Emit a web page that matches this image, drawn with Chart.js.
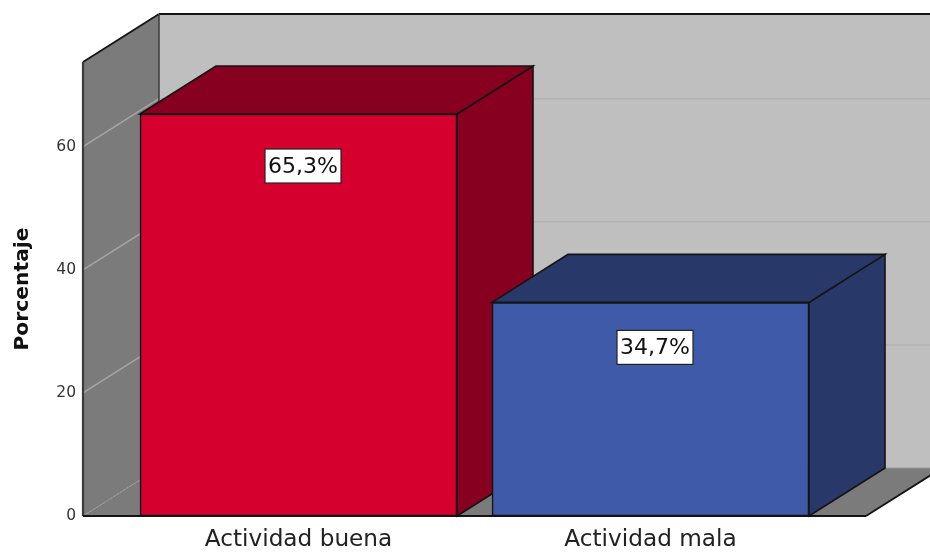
<!DOCTYPE html>
<html>
<head>
<meta charset="utf-8">
<script src="https://cdn.jsdelivr.net/npm/chart.js@4"></script>
<style>
  html, body { margin: 0; padding: 0; background: #fff; }
  #wrap { width: 930px; height: 552px; }
</style>
</head>
<body>
<div id="wrap"><canvas id="myChart" width="930" height="552"></canvas></div>
<script>
  // actual data part
  const categories = ['Actividad buena', 'Actividad mala'];
  const porcentaje = [65.3, 34.7];
  const yTicks = [0, 20, 40, 60];

  const frontColors = ['#d6002e', '#3e5aa8'];
  const darkColors = ['#87001f', '#283868'];

  // 3d look: how far the back wall sits from the front plane
  const depthX = 76;
  const depthY = 48;
  const sidePad = 39.5; // floor sticks out this far past the category band
  const lineCol = '#141414';

  function poly(ctx, pts, fill, stroke, lw) {
      ctx.beginPath();
      pts.forEach((p, i) => i ? ctx.lineTo(p[0], p[1]) : ctx.moveTo(p[0], p[1]));
      ctx.closePath();
      if (fill) { ctx.fillStyle = fill; ctx.fill(); }
      if (stroke) { ctx.strokeStyle = stroke; ctx.lineWidth = lw || 1.5; ctx.stroke(); }
  }

  function line(ctx, x1, y1, x2, y2, col, lw) {
      ctx.beginPath();
      ctx.moveTo(x1, y1);
      ctx.lineTo(x2, y2);
      ctx.strokeStyle = col;
      ctx.lineWidth = lw;
      ctx.stroke();
  }

  const walls = {
      id: 'walls',
      beforeDatasetsDraw(chart) {
          const ctx = chart.ctx;
          const a = chart.chartArea;
          const y = chart.scales.y;
          const l = a.left - sidePad;
          const r = a.right + sidePad;
          const t = a.top;
          const b = a.bottom;

          ctx.save();
          // back wall, runs off the right edge of the picture
          poly(ctx, [[l + depthX, t - depthY], [r + depthX, t - depthY], [r + depthX, b - depthY], [l + depthX, b - depthY]], '#bfbfbf');
          // left wall and floor
          poly(ctx, [[l, t], [l + depthX, t - depthY], [l + depthX, b - depthY], [l, b]], '#7b7b7b');
          poly(ctx, [[l, b], [l + depthX, b - depthY], [r + depthX, b - depthY], [r, b]], '#7b7b7b');

          // grid on both walls
          yTicks.forEach(v => {
              const py = y.getPixelForValue(v);
              if (v === 0) {
                  ctx.setLineDash([2, 2]);
                  line(ctx, l, py, l + depthX, py - depthY, '#9a9a9a', 1.2);
                  ctx.setLineDash([]);
                  return;
              }
              line(ctx, l, py, l + depthX, py - depthY, '#a6a6a6', 1.5);
              line(ctx, l + depthX, py - depthY, r + depthX, py - depthY, '#b3b3b3', 1.5);
          });

          // wall outlines
          line(ctx, l, t, l + depthX, t - depthY, lineCol, 1.8);
          line(ctx, l + depthX, t - depthY, r + depthX, t - depthY, lineCol, 1.8);
          line(ctx, l + depthX, t - depthY, l + depthX, b - depthY, '#3a3a3a', 1.5);
          line(ctx, l, t, l, b, '#3a3a3a', 2.2);
          line(ctx, l, b, r, b, lineCol, 1.8);
          line(ctx, r, b, r + depthX, b - depthY, lineCol, 1.8);
          line(ctx, l + depthX, b - depthY, r + depthX, b - depthY, '#9a9a9a', 1);

          // bar sides and tops, the fronts come from chart.js itself
          chart.getDatasetMeta(0).data.forEach((bar, i) => {
              const p = bar.getProps(['x', 'y', 'base', 'width'], true);
              const x1 = p.x - p.width / 2;
              const x2 = p.x + p.width / 2;
              poly(ctx, [[x2, p.y], [x2 + depthX, p.y - depthY], [x2 + depthX, p.base - depthY], [x2, p.base]], darkColors[i], lineCol, 1.6);
              poly(ctx, [[x1, p.y], [x1 + depthX, p.y - depthY], [x2 + depthX, p.y - depthY], [x2, p.y]], darkColors[i], lineCol, 1.6);
          });
          ctx.restore();
      }
  };

  // white boxes with the percentage on each bar
  const boxLabels = {
      id: 'boxLabels',
      afterDatasetsDraw(chart) {
          const ctx = chart.ctx;
          const offsets = [52, 45];
          ctx.save();
          ctx.font = '22px "DejaVu Sans"';
          ctx.textAlign = 'center';
          ctx.textBaseline = 'middle';
          chart.getDatasetMeta(0).data.forEach((bar, i) => {
              const p = bar.getProps(['x', 'y'], true);
              const cx = p.x + 4.5;
              const cy = p.y + offsets[i];
              const txt = porcentaje[i].toFixed(1).replace('.', ',') + '%';
              ctx.fillStyle = '#fff';
              ctx.strokeStyle = '#222';
              ctx.lineWidth = 1.2;
              ctx.fillRect(cx - 38, cy - 17, 76, 34);
              ctx.strokeRect(cx - 38, cy - 17, 76, 34);
              ctx.fillStyle = '#111';
              ctx.fillText(txt, cx, cy + 1);
          });
          ctx.restore();
      }
  };

  const config = {
      type: 'bar',
      data: {
          labels: categories,
          datasets: [{
              data: porcentaje,
              backgroundColor: frontColors,
              borderColor: lineCol,
              borderWidth: 1.6,
              borderSkipped: false,
              barThickness: 317
          }]
      },
      plugins: [walls, boxLabels],
      options: {
          responsive: false,
          animation: false,
          layout: { autoPadding: false, padding: { top: 62, right: 103.5, left: 0, bottom: 0 } },
          plugins: { legend: { display: false }, tooltip: { enabled: false } },
          scales: {
              x: {
                  offset: true,
                  grid: { display: false, drawTicks: false },
                  border: { display: false },
                  afterFit(scale) { scale.height = 36; },
                  ticks: { color: '#222', padding: 10, maxRotation: 0, font: { family: 'DejaVu Sans', size: 23.2 } }
              },
              y: {
                  min: 0,
                  max: 73.75,
                  grid: { display: false, drawTicks: false },
                  border: { display: false },
                  afterFit(scale) {
                      scale.width = 122.5;
                      // big tick padding would otherwise eat into the plot height
                      scale.paddingTop = 0;
                      scale.paddingBottom = 0;
                  },
                  title: {
                      display: true,
                      text: 'Porcentaje',
                      color: '#111',
                      padding: { top: 11, bottom: 0 },
                      font: { family: 'DejaVu Sans', size: 20.3, weight: 'bold' }
                  },
                  ticks: {
                      color: '#333',
                      stepSize: 20,
                      includeBounds: false,
                      padding: 46.5,
                      font: { family: 'DejaVu Sans', size: 15.5 }
                  }
              }
          }
      }
  };

  // render
  var myChart = new Chart(document.getElementById('myChart'), config);
</script>
</body>
</html>
